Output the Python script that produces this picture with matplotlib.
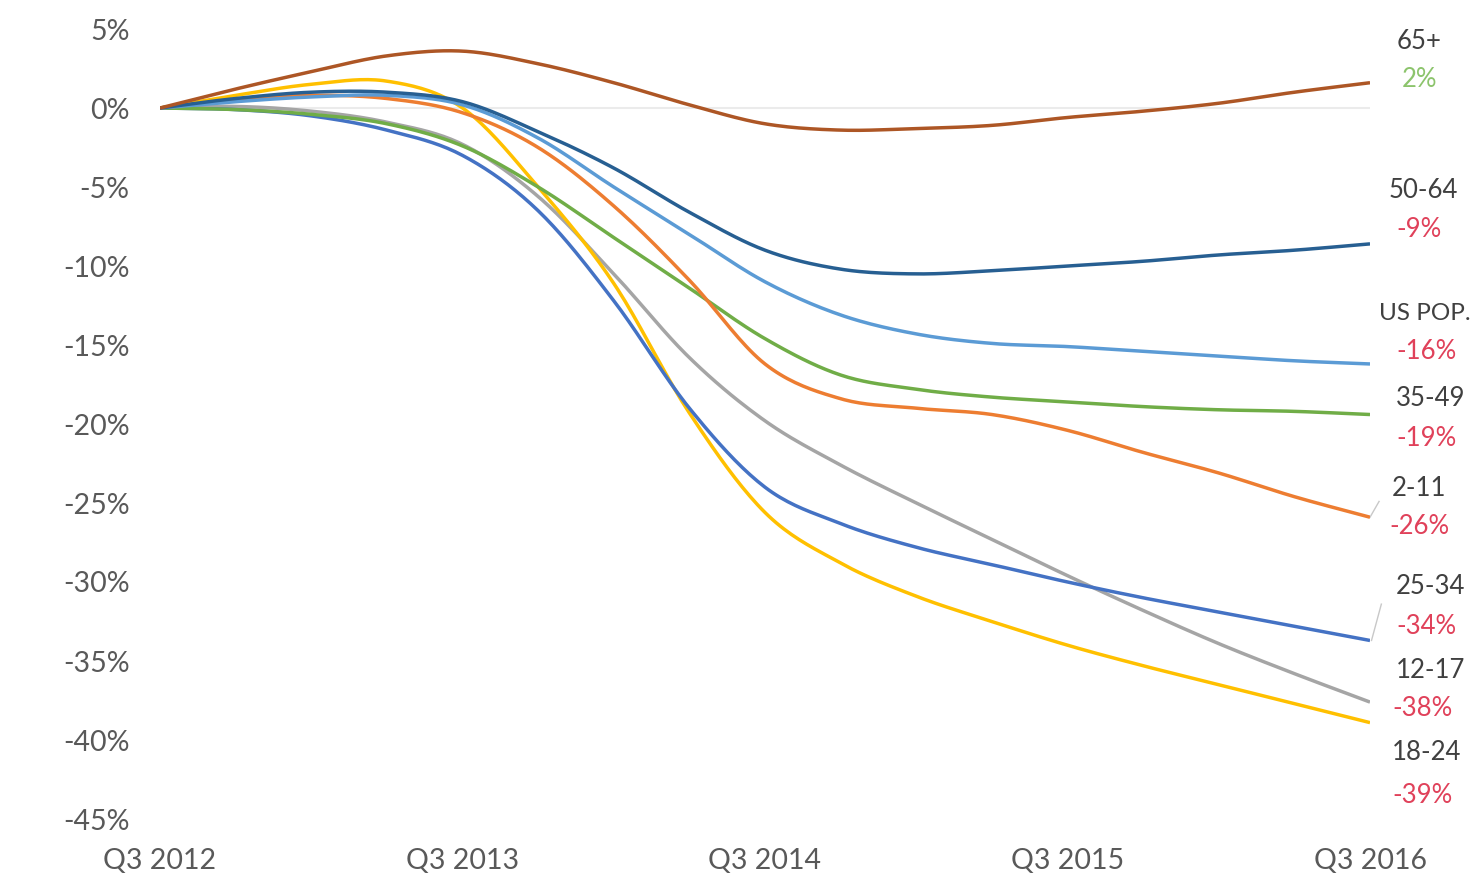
import numpy as np
import matplotlib
matplotlib.use("Agg")
import matplotlib.pyplot as plt

plt.rcParams['font.family'] = ['Lato', 'DejaVu Sans']

# Quarterly periods Q3 2012 .. Q3 2016
periods = ["Q3 2012", "Q4 2012", "Q1 2013", "Q2 2013", "Q3 2013", "Q4 2013", "Q1 2014", "Q2 2014",
           "Q3 2014", "Q4 2014", "Q1 2015", "Q2 2015", "Q3 2015", "Q4 2015", "Q1 2016", "Q2 2016", "Q3 2016"]
tick_labels = ["Q3 2012", "Q3 2013", "Q3 2014", "Q3 2015", "Q3 2016"]

age_65p   = [0, 1.2, 2.3, 3.3, 3.6, 2.8, 1.6, 0.2, -1.0, -1.4, -1.3, -1.1, -0.6, -0.2, 0.3, 1.0, 1.6]
age_50_64 = [0, 0.6, 1.0, 1.0, 0.4, -1.5, -3.8, -6.6, -9.0, -10.2, -10.5, -10.3, -10.0, -9.7, -9.3, -9.0, -8.6]
us_pop    = [0, 0.4, 0.7, 0.8, 0.2, -1.9, -5.0, -8.0, -11.0, -13.1, -14.3, -14.9, -15.1, -15.4, -15.7, -16.0, -16.2]
age_35_49 = [0, -0.1, -0.4, -1.0, -2.4, -5.0, -8.2, -11.4, -14.6, -16.9, -17.8, -18.3, -18.6, -18.9, -19.1, -19.2, -19.4]
age_2_11  = [0, 0.5, 0.8, 0.6, -0.3, -2.5, -6.2, -10.9, -16.2, -18.4, -19.0, -19.4, -20.4, -21.8, -23.1, -24.6, -25.9]
age_25_34 = [0, -0.1, -0.5, -1.4, -3.0, -6.5, -12.2, -19.0, -24.0, -26.3, -27.8, -28.9, -30.0, -31.0, -31.9, -32.8, -33.7]
age_12_17 = [0, 0.1, -0.2, -0.9, -2.3, -5.6, -10.5, -15.8, -19.8, -22.6, -25.0, -27.3, -29.6, -31.8, -33.9, -35.8, -37.6]
age_18_24 = [0, 0.8, 1.5, 1.7, 0.0, -5.0, -11.1, -19.3, -25.6, -28.8, -30.9, -32.5, -34.0, -35.3, -36.5, -37.7, -38.9]

series_names = ["65+", "50-64", "US POP.", "35-49", "2-11", "25-34", "12-17", "18-24"]
series_values = [age_65p, age_50_64, us_pop, age_35_49, age_2_11, age_25_34, age_12_17, age_18_24]
end_labels = ["2%", "-9%", "-16%", "-19%", "-26%", "-34%", "-38%", "-39%"]
colors = ["#ad5625", "#275f92", "#5b9bd5", "#70ad47", "#ed7d31", "#4472c4", "#a5a5a5", "#ffc000"]
# label vertical positions (data units) for name / value
name_y = [4.2, -5.2, -13.0, -18.4, -24.1, -30.3, -35.6, -40.8]
val_y = [1.8, -7.7, -15.4, -20.9, -26.5, -32.8, -38.0, -43.5]
name_x = [16.65, 16.7, 16.72, 16.8, 16.65, 16.8, 16.8, 16.75]
val_x = [16.65, 16.65, 16.75, 16.75, 16.65, 16.75, 16.7, 16.7]
val_colors = ["#8cc46c"] + ["#e0415a"] * 7


def smooth(y, n=20):
    """Catmull-Rom smoothing like Excel's smoothed line."""
    y = np.asarray(y, dtype=float)
    x = np.arange(len(y), dtype=float)
    m = np.zeros_like(y)
    m[1:-1] = (y[2:] - y[:-2]) / 2.0
    m[0] = (y[1] - y[0])
    m[-1] = (y[-1] - y[-2])
    xs, ys = [], []
    for i in range(len(y) - 1):
        t = np.linspace(0, 1, n, endpoint=False)
        h00 = 2 * t**3 - 3 * t**2 + 1
        h10 = t**3 - 2 * t**2 + t
        h01 = -2 * t**3 + 3 * t**2
        h11 = t**3 - t**2
        xs.append(x[i] + t)
        ys.append(h00 * y[i] + h10 * m[i] + h01 * y[i + 1] + h11 * m[i + 1])
    xs.append([x[-1]])
    ys.append([y[-1]])
    return np.concatenate(xs), np.concatenate(ys)


fig = plt.figure(figsize=(14.8, 8.82), dpi=100)
ax = fig.add_axes([160 / 1480, (882 - 819) / 882, (1370 - 160) / 1480, (819 - 29) / 882])

ax.axhline(0, color="#ebebeb", lw=1.5, zorder=1)

order = [6, 7, 5, 3, 4, 2, 1, 0]
for i in order:
    xs, ys = smooth(series_values[i])
    ax.plot(xs, ys, color=colors[i], lw=2.5, solid_capstyle="butt", zorder=3)

for i in range(len(series_names)):
    fs = 17.5 if series_names[i] == "US POP." else 18.5
    ax.text(name_x[i], name_y[i], series_names[i], ha="center", va="center",
            fontsize=fs, color="#404040", clip_on=False)
    ax.text(val_x[i], val_y[i], end_labels[i], ha="center", va="center",
            fontsize=18.5, color=val_colors[i], clip_on=False)

# small leader lines
ax.plot([16, 16.12], [age_2_11[-1], -24.9], color="#c8c8c8", lw=1, clip_on=False)
ax.plot([16.02, 16.15], [age_25_34[-1], -31.4], color="#c8c8c8", lw=1, clip_on=False)

ax.set_xlim(0, 16)
ax.set_ylim(-45, 5)
ax.set_xticks([0, 4, 8, 12, 16])
ax.set_xticklabels(tick_labels)
yt = np.arange(-45, 6, 5)
ax.set_yticks(yt)
ax.set_yticklabels([f"{v}%" for v in yt])
ax.tick_params(axis="both", length=0, labelsize=20.5, labelcolor="#595959")
ax.tick_params(axis="y", pad=22)
ax.tick_params(axis="x", pad=21)
for s in ax.spines.values():
    s.set_visible(False)

fig.savefig("out.png", dpi=100, facecolor="white")
